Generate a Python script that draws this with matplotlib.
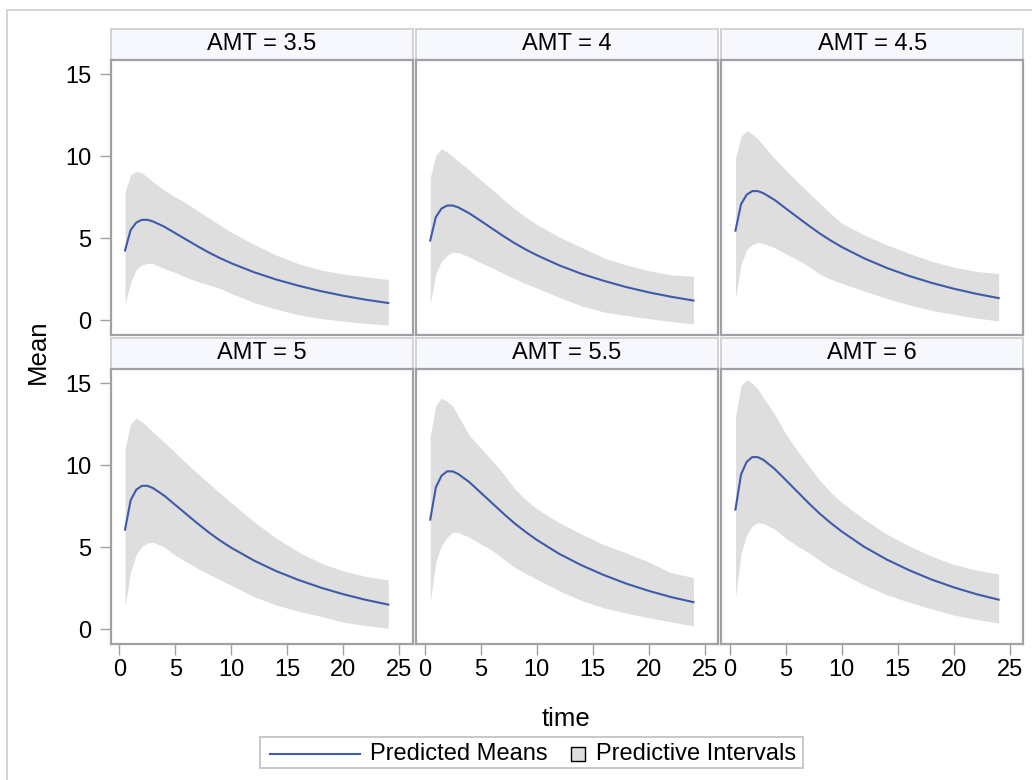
import matplotlib
matplotlib.use('Agg')
import matplotlib.pyplot as plt
from matplotlib.patches import Rectangle
from matplotlib.lines import Line2D

plt.rcParams['font.family'] = ['Liberation Sans', 'DejaVu Sans']

# ---------------- data ----------------
panel_labels = ['AMT = 3.5', 'AMT = 4', 'AMT = 4.5', 'AMT = 5', 'AMT = 5.5', 'AMT = 6']

time = [0.5, 1, 1.5, 2, 2.5, 3, 4, 5, 6, 7, 8, 9, 10, 12, 14, 16, 18, 20, 22, 24]

mean_35 = [4.25, 5.50, 5.95, 6.12, 6.12, 6.02, 5.70, 5.30, 4.90, 4.50, 4.12, 3.78, 3.47, 2.93, 2.48, 2.10, 1.77, 1.49, 1.25, 1.05]
mean_40 = [4.86, 6.29, 6.80, 6.99, 6.99, 6.88, 6.51, 6.06, 5.60, 5.14, 4.71, 4.32, 3.97, 3.35, 2.83, 2.40, 2.02, 1.70, 1.43, 1.20]
mean_45 = [5.46, 7.07, 7.65, 7.87, 7.87, 7.74, 7.33, 6.81, 6.30, 5.79, 5.30, 4.86, 4.46, 3.77, 3.19, 2.70, 2.28, 1.92, 1.61, 1.35]
mean_50 = [6.07, 7.86, 8.50, 8.74, 8.74, 8.60, 8.14, 7.57, 7.00, 6.43, 5.89, 5.40, 4.96, 4.19, 3.54, 3.00, 2.53, 2.13, 1.79, 1.50]
mean_55 = [6.68, 8.64, 9.35, 9.62, 9.62, 9.46, 8.96, 8.33, 7.70, 7.07, 6.47, 5.94, 5.45, 4.60, 3.90, 3.30, 2.78, 2.34, 1.96, 1.65]
mean_60 = [7.29, 9.43, 10.20, 10.49, 10.49, 10.32, 9.77, 9.09, 8.40, 7.71, 7.06, 6.48, 5.95, 5.02, 4.25, 3.60, 3.03, 2.55, 2.14, 1.80]

upper_35 = [7.82, 8.86, 9.08, 8.98, 8.72, 8.43, 7.92, 7.50, 7.12, 6.67, 6.22, 5.78, 5.36, 4.63, 3.97, 3.44, 3.06, 2.82, 2.65, 2.48]
upper_40 = [8.70, 10.05, 10.45, 10.25, 10.00, 9.70, 9.15, 8.55, 7.98, 7.38, 6.80, 6.30, 5.84, 5.08, 4.44, 3.80, 3.37, 3.02, 2.76, 2.68]
upper_45 = [9.90, 11.20, 11.55, 11.35, 11.05, 10.65, 9.85, 9.15, 8.45, 7.80, 7.15, 6.50, 5.90, 5.20, 4.60, 4.08, 3.60, 3.23, 2.98, 2.84]
upper_50 = [11.04, 12.50, 12.87, 12.65, 12.35, 12.00, 11.40, 10.75, 10.10, 9.48, 8.88, 8.29, 7.70, 6.55, 5.55, 4.70, 4.03, 3.55, 3.22, 3.00]
upper_55 = [11.78, 13.65, 14.09, 13.90, 13.60, 13.00, 11.80, 11.05, 10.30, 9.50, 8.60, 7.90, 7.35, 6.50, 5.80, 5.15, 4.65, 4.10, 3.45, 3.15]
upper_60 = [12.91, 14.85, 15.20, 15.00, 14.65, 14.10, 13.10, 11.90, 10.90, 10.00, 9.10, 8.35, 7.72, 6.70, 5.80, 5.08, 4.45, 3.95, 3.60, 3.37]

lower_35 = [1.00, 2.30, 3.08, 3.38, 3.46, 3.45, 3.15, 2.90, 2.60, 2.36, 2.15, 1.93, 1.63, 1.08, 0.67, 0.33, 0.10, -0.06, -0.19, -0.30]
lower_40 = [0.98, 2.85, 3.60, 3.95, 4.15, 4.13, 3.85, 3.50, 3.20, 2.86, 2.54, 2.23, 1.97, 1.40, 0.87, 0.50, 0.29, 0.10, -0.08, -0.22]
lower_45 = [1.32, 3.40, 4.30, 4.60, 4.73, 4.68, 4.42, 4.05, 3.70, 3.30, 2.82, 2.50, 2.25, 1.78, 1.33, 0.94, 0.60, 0.36, 0.13, -0.04]
lower_50 = [1.38, 3.50, 4.55, 5.05, 5.25, 5.30, 5.00, 4.50, 4.10, 3.70, 3.35, 3.00, 2.68, 1.99, 1.47, 1.10, 0.78, 0.43, 0.22, 0.06]
lower_55 = [1.67, 4.10, 5.10, 5.60, 5.92, 5.90, 5.60, 5.20, 4.82, 4.30, 3.80, 3.40, 3.05, 2.35, 1.75, 1.30, 0.98, 0.70, 0.45, 0.20]
lower_60 = [1.90, 4.60, 5.75, 6.30, 6.49, 6.45, 6.10, 5.55, 5.08, 4.68, 4.20, 3.75, 3.40, 2.70, 2.10, 1.65, 1.24, 0.86, 0.60, 0.38]

means = [mean_35, mean_40, mean_45, mean_50, mean_55, mean_60]
uppers = [upper_35, upper_40, upper_45, upper_50, upper_55, upper_60]
lowers = [lower_35, lower_40, lower_45, lower_50, lower_55, lower_60]

x_ticks = [0, 5, 10, 15, 20, 25]
y_ticks = [0, 5, 10, 15]

# ---------------- style ----------------
W, H = 1032, 780
LINE_C = '#3F5AA8'
BAND_C = '#DEDEDE'
FRAME_C = '#9EA2A6'
HDR_FACE = '#F6F8FD'
HDR_EDGE = '#D2D2D2'
TICK_C = '#A0A0A0'

fig = plt.figure(figsize=(W / 100, H / 100), dpi=100)


def fx(x):
    return x / W


def fy(y):
    return 1 - y / H


# outer light border
fig.add_artist(Rectangle((fx(7), -0.1), 1.2, fy(10) + 0.1, transform=fig.transFigure,
                         fill=False, edgecolor='#D4D4D4', lw=1.4))

col_left = [110.7, 415.9, 721.1]
col_w = 302.2
row_top = [60.0, 369.0]
row_h = 274.5
hdr_h = 31.5

for i in range(6):
    r, c = divmod(i, 3)
    l = col_left[c]
    t = row_top[r]
    # header strip
    hax = fig.add_axes([fx(l), fy(t), col_w / W, hdr_h / H])
    hax.set_facecolor(HDR_FACE)
    hax.set_xticks([])
    hax.set_yticks([])
    for s in hax.spines.values():
        s.set_color(HDR_EDGE)
        s.set_linewidth(1.4)
    hax.text(0.5, 0.5, panel_labels[i], ha='center', va='center', fontsize=17,
             transform=hax.transAxes)

    ax = fig.add_axes([fx(l), fy(t + row_h), col_w / W, row_h / H])
    ax.fill_between(time, lowers[i], uppers[i], color=BAND_C, lw=0)
    ax.plot(time, means[i], color=LINE_C, lw=1.5)
    ax.set_xlim(-0.78, 26.2)
    ax.set_ylim(-0.87, 15.86)
    ax.set_xticks(x_ticks)
    ax.set_yticks(y_ticks)
    for s in ax.spines.values():
        s.set_color(FRAME_C)
        s.set_linewidth(1.6)
    ax.tick_params(axis='both', direction='out', length=7.7, width=1.0, color=TICK_C,
                   labelsize=17, labelcolor='black')
    ax.tick_params(axis='y', pad=6)
    ax.tick_params(axis='x', pad=3.5)
    if c != 0:
        ax.tick_params(axis='y', left=False, labelleft=False)
    if r == 0:
        ax.tick_params(axis='x', bottom=False, labelbottom=False)

# axis labels
fig.text(fx(38), fy(352), 'Mean', rotation=90, ha='center', va='center', fontsize=18.5)
fig.text(fx(566), fy(719), 'time', ha='center', va='center', fontsize=18.5)

# legend
fig.add_artist(Rectangle((fx(260), fy(768)), 543 / W, 31 / H, transform=fig.transFigure,
                         facecolor='white', edgecolor='#C8C8C8', lw=1.4))
fig.add_artist(Line2D([fx(270), fx(360)], [fy(754), fy(754)], transform=fig.transFigure,
                      color=LINE_C, lw=1.5))
fig.text(fx(370), fy(754), 'Predicted Means', ha='left', va='center', fontsize=17)
fig.add_artist(Rectangle((fx(571), fy(761)), 14 / W, 14 / H, transform=fig.transFigure,
                         facecolor=BAND_C, edgecolor='black', lw=1.0))
fig.text(fx(596), fy(754), 'Predictive Intervals', ha='left', va='center', fontsize=17)

fig.savefig('out.png', dpi=100, facecolor='white')
